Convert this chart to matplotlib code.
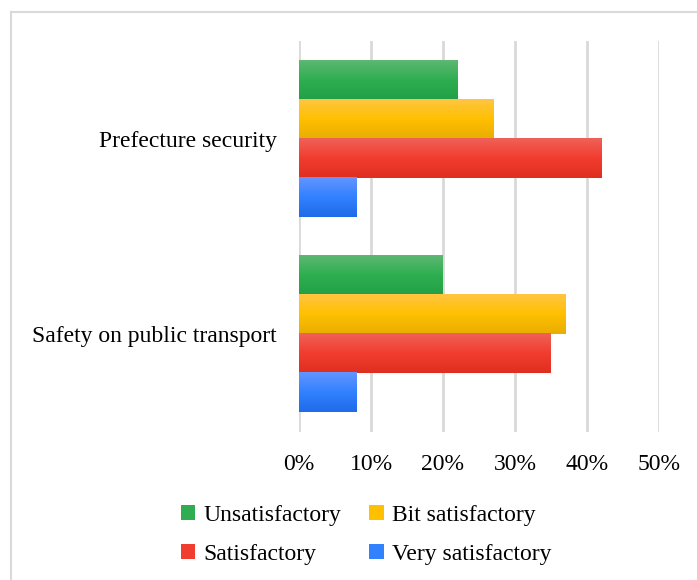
import numpy as np
import matplotlib.pyplot as plt
from matplotlib.colors import LinearSegmentedColormap
from matplotlib.lines import Line2D
from matplotlib.patches import Rectangle

plt.rcParams['font.family'] = ['Liberation Serif', 'DejaVu Serif']

categories = ["Prefecture security", "Safety on public transport"]
series = ["Unsatisfactory", "Bit satisfactory", "Satisfactory", "Very satisfactory"]
unsatisfactory = [22, 20]
bit_satisfactory = [27, 37]
satisfactory = [42, 35]
very_satisfactory = [8, 8]
values = [unsatisfactory, bit_satisfactory, satisfactory, very_satisfactory]
xticks = [0, 10, 20, 30, 40, 50]

# top / middle / bottom shades of each bar gradient
shades = [
    ["#5cb872", "#2eae50", "#23a047"],
    ["#ffc542", "#ffc000", "#e9ad00"],
    ["#ef6158", "#f13d2f", "#df2f1f"],
    ["#6395ff", "#3281ff", "#1f6be8"],
]

fig = plt.figure(figsize=(6.97, 5.80), dpi=100)
ax = fig.add_axes([299 / 697, 1 - 432 / 580, 360 / 697, 391 / 580])

h = 0.2
offsets = [-0.3, -0.1, 0.1, 0.3]
grad = np.linspace(0, 1, 64).reshape(-1, 1)
for vals, off, sh in zip(values, offsets, shades):
    cmap = LinearSegmentedColormap.from_list("g", sh)
    for i, v in enumerate(vals):
        y = i + off
        ax.imshow(grad, cmap=cmap, aspect="auto", interpolation="bilinear",
                  extent=[0, v, y + h / 2, y - h / 2], zorder=3)

ax.set_xlim(0, 50)
ax.set_ylim(1.5, -0.5)
ax.set_xticks(xticks)
ax.set_xticklabels([f"{t}%" for t in xticks], fontsize=17)
ax.set_yticks(range(len(categories)))
ax.set_yticklabels(categories, fontsize=17)
ax.tick_params(axis="x", length=0, pad=16)
ax.tick_params(axis="y", length=0, pad=16)
ax.grid(axis="x", color="#d9d9d9", linewidth=2, zorder=0)
for s in ax.spines.values():
    s.set_visible(False)

# legend fills by column, so order entries to read row by row
handles = [Rectangle((0, 0), 1, 1, facecolor=sh[1], edgecolor="none") for sh in shades]
order = [0, 2, 1, 3]
fig.legend([handles[k] for k in order], [series[k] for k in order],
           loc="center", bbox_to_anchor=(366 / 697, 1 - 535 / 580),
           ncol=2, frameon=False, fontsize=17, handlelength=0.6, handleheight=0.6,
           handletextpad=0.35, columnspacing=1.2, labelspacing=0.78)

# outer chart frame
fig.add_artist(Line2D([11 / 697, 11 / 697], [0, 1 - 12 / 580], color="#d9d9d9", linewidth=1.5))
fig.add_artist(Line2D([11 / 697, 1], [1 - 12 / 580, 1 - 12 / 580], color="#d9d9d9", linewidth=1.5))

fig.savefig("out.png", dpi=100)
